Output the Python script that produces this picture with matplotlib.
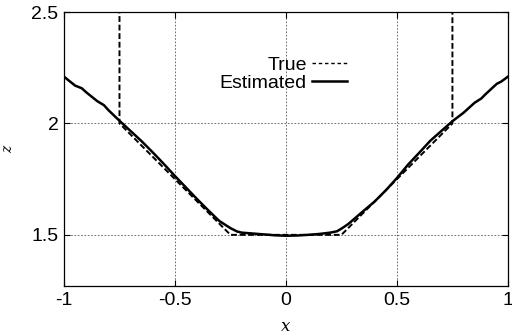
import matplotlib
matplotlib.use("Agg")
import matplotlib.pyplot as plt
from matplotlib.lines import Line2D

# Estimated curve
est_x = [-1.00, -0.95, -0.92, -0.90, -0.85, -0.82, -0.80, -0.75, -0.70, -0.65, -0.60,
         -0.55, -0.50, -0.45, -0.40, -0.35, -0.30, -0.25, -0.22, -0.20, -0.15, -0.10,
         -0.05, 0.00, 0.05, 0.10, 0.15, 0.20, 0.23, 0.25, 0.28, 0.30, 0.35, 0.40,
         0.45, 0.50, 0.55, 0.60, 0.65, 0.70, 0.75, 0.80, 0.85, 0.88, 0.90, 0.95, 0.97, 1.00]
est_z = [2.210, 2.170, 2.158, 2.140, 2.100, 2.082, 2.060, 2.012, 1.966, 1.920, 1.870,
         1.818, 1.764, 1.712, 1.660, 1.610, 1.562, 1.530, 1.515, 1.510, 1.506, 1.502,
         1.498, 1.496, 1.497, 1.500, 1.504, 1.510, 1.516, 1.528, 1.548, 1.565, 1.608, 1.650,
         1.700, 1.755, 1.815, 1.868, 1.922, 1.966, 2.010, 2.048, 2.093, 2.112, 2.132, 2.178, 2.188, 2.210]

# True curve
true_x = [-0.75, -0.75, -0.25, 0.25, 0.75, 0.75]
true_z = [2.60, 2.00, 1.50, 1.50, 2.00, 2.60]

x_ticks = [-1, -0.5, 0, 0.5, 1]
x_tick_labels = ["-1", "-0.5", "0", "0.5", "1"]
z_ticks = [1.5, 2, 2.5]
z_tick_labels = ["1.5", "2", "2.5"]
legend_labels = ["True", "Estimated"]

plt.rcParams['font.family'] = ['Liberation Sans', 'DejaVu Sans']

fig = plt.figure(figsize=(5.12, 3.35), dpi=100)
ax = fig.add_axes([0.125, 0.146, 0.867, 0.818])

ax.plot(true_x, true_z, color='black', lw=1.4, dashes=(3, 1.4))
ax.plot(est_x, est_z, color='black', lw=1.8)

ax.set_xlim(-1, 1)
ax.set_ylim(1.27, 2.5)
ax.set_xticks(x_ticks)
ax.set_xticklabels(x_tick_labels)
ax.set_yticks(z_ticks)
ax.set_yticklabels(z_tick_labels)
ax.tick_params(direction='in', length=4, labelsize=14, top=True, right=True, width=0.8, pad=4)
ax.grid(True, linestyle=(0, (2, 2)), color='#555555', lw=0.6)

for s in ax.spines.values():
    s.set_linewidth(0.9)

ax.set_xlabel('x', fontsize=12, family='DejaVu Serif', style='italic')
ax.xaxis.set_label_coords(0.5, -0.115)
ax.set_ylabel('z', fontsize=10, family='DejaVu Serif', style='italic')
ax.yaxis.set_label_coords(-0.11, 0.5)

handles = [Line2D([], [], color='black', lw=1.0, dashes=(2.5, 2)),
           Line2D([], [], color='black', lw=1.8)]
leg = ax.legend(handles, legend_labels, loc='upper right', bbox_to_anchor=(0.637, 0.84),
                frameon=False, markerfirst=False, fontsize=14, handlelength=1.8,
                handletextpad=0.25, labelspacing=0.05, borderpad=0, borderaxespad=0)
for t in leg.get_texts():
    t.set_ha('right')

fig.savefig('out.png', dpi=100)
